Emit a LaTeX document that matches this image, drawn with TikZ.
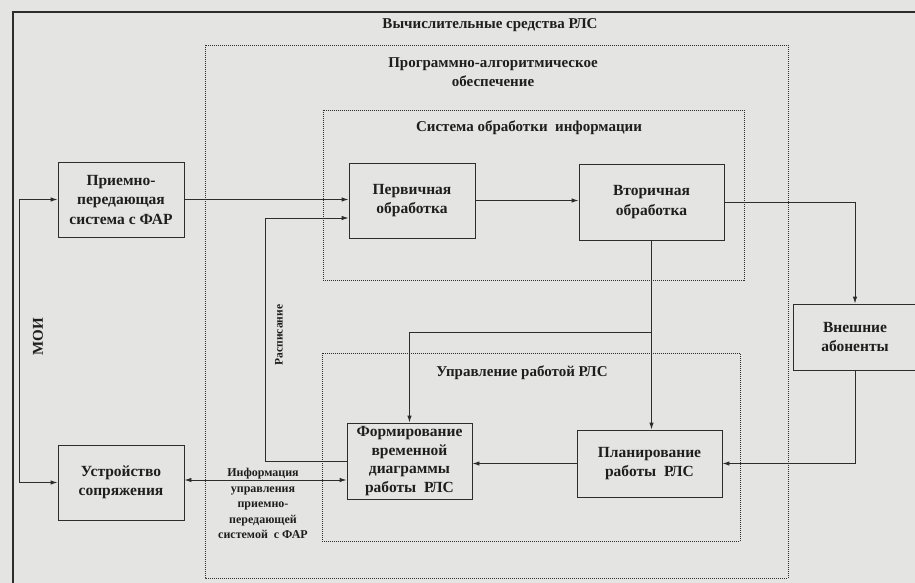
\documentclass[tikz,border=0pt]{standalone}
\usepackage{fontspec}
\setmainfont{Liberation Serif}
\usetikzlibrary{arrows.meta}
\definecolor{bgcol}{RGB}{228,228,226}
\definecolor{inkcol}{RGB}{45,45,45}
\definecolor{txtcol}{RGB}{30,30,30}
\begin{document}
\begin{tikzpicture}[x=1pt,y=-1pt,
  every node/.style={text=txtcol},
  box/.style={draw=inkcol, line width=0.9pt, fill=bgcol, align=center, inner sep=1pt,
    font=\fontsize{15.5}{19.5}\selectfont\bfseries},
  lbl/.style={font=\fontsize{15}{19}\selectfont\bfseries, align=center, inner sep=0pt},
  small/.style={font=\fontsize{12}{15.5}\selectfont\bfseries, align=center, inner sep=0pt},
  conn/.style={draw=inkcol, line width=0.9pt},
  arr/.style={conn, -{Latex[length=7pt,width=4.5pt]}},
  biarr/.style={conn, {Latex[length=7pt,width=4.5pt]}-{Latex[length=7pt,width=4.5pt]}},
  dotbox/.style={draw=inkcol, line width=0.9pt, dash pattern=on 1pt off 1pt}]
\clip (0,0) rectangle (915,583);
\fill[bgcol] (0,0) rectangle (915,583);
\useasboundingbox (0,0) rectangle (915,583);
% outer frame
\draw[draw=inkcol, line width=1.3pt] (920,12) -- (13,12) -- (13,590);
\node[lbl] (tVS) at (490,25) {Вычислительные средства РЛС};
% dotted containers
\draw[dotbox] (205,45) rectangle (788,578);
\node[lbl] (tPAO) at (493,72) {Программно-алгоритмическое\\обеспечение};
\draw[dotbox] (323,110) rectangle (744,280);
\node[lbl] (tSOI) at (529,128) {Система обработки\ \ информации};
\draw[dotbox] (322,353) rectangle (740,541);
\node[lbl] (tUPR) at (522,373) {Управление работой РЛС};
% boxes
\node[box, minimum width=126pt, minimum height=75pt] (ppc) at (121,199.5) {Приемно-\\передающая\\система с ФАР};
\node[box, minimum width=126pt, minimum height=75pt] (perv) at (412,200.5) {Первичная\\обработка};
\node[box, minimum width=145pt, minimum height=76pt] (vtor) at (651.5,202) {Вторичная\\обработка};
\node[box, minimum width=124pt, minimum height=66pt] (vnesh) at (855,337) {Внешние\\абоненты};
\node[box, minimum width=125pt, minimum height=76pt, font=\fontsize{15.5}{18.5}\selectfont\bfseries] (form) at (409.5,461) {Формирование\\временной\\диаграммы\\работы\ \ РЛС};
\node[box, minimum width=145pt, minimum height=67pt] (plan) at (649.5,463.5) {Планирование\\работы\ \ РЛС};
\node[box, minimum width=126pt, minimum height=75pt] (ustr) at (121,482.5) {Устройство\\сопряжения};
% helper coordinates
\coordinate (moi) at (19,0);
\coordinate (r1) at (265,218);
\coordinate (info) at (0,480);
\coordinate (br) at (651.5,332);
% connectors
\draw[biarr] (ppc.west) -- (ppc.west -| moi) -- (ustr.west -| moi) -- (ustr.west);
\node[lbl, rotate=90] (tMOI) at (38,337) {МОИ};
\draw[arr] (ppc.east) -- (ppc.east -| perv.west);
\draw[arr] (form.west) -| (r1) -- (r1 -| perv.west);
\node[small, rotate=90, font=\fontsize{11.5}{13}\selectfont\bfseries] (tRasp) at (279,335) {Расписание};
\draw[biarr] (ustr.east |- info) -- (form.west |- info);
\node[small] (tInfo) at (263,503.5) {Информация\\управления\\приемно-\\передающей\\системой\ \ с ФАР};
\draw[arr] (perv.east) -- (perv.east -| vtor.west);
\draw[arr] (vtor.east) -| (vnesh.north);
\draw[arr] (vnesh.south) |- (plan.east);
\draw[arr] (vtor.south) -- (vtor.south |- plan.north);
\draw[arr] (vtor.south |- br) -| (form.north);
\draw[arr] (plan.west) -- (plan.west -| form.east);
\end{tikzpicture}
\end{document}
